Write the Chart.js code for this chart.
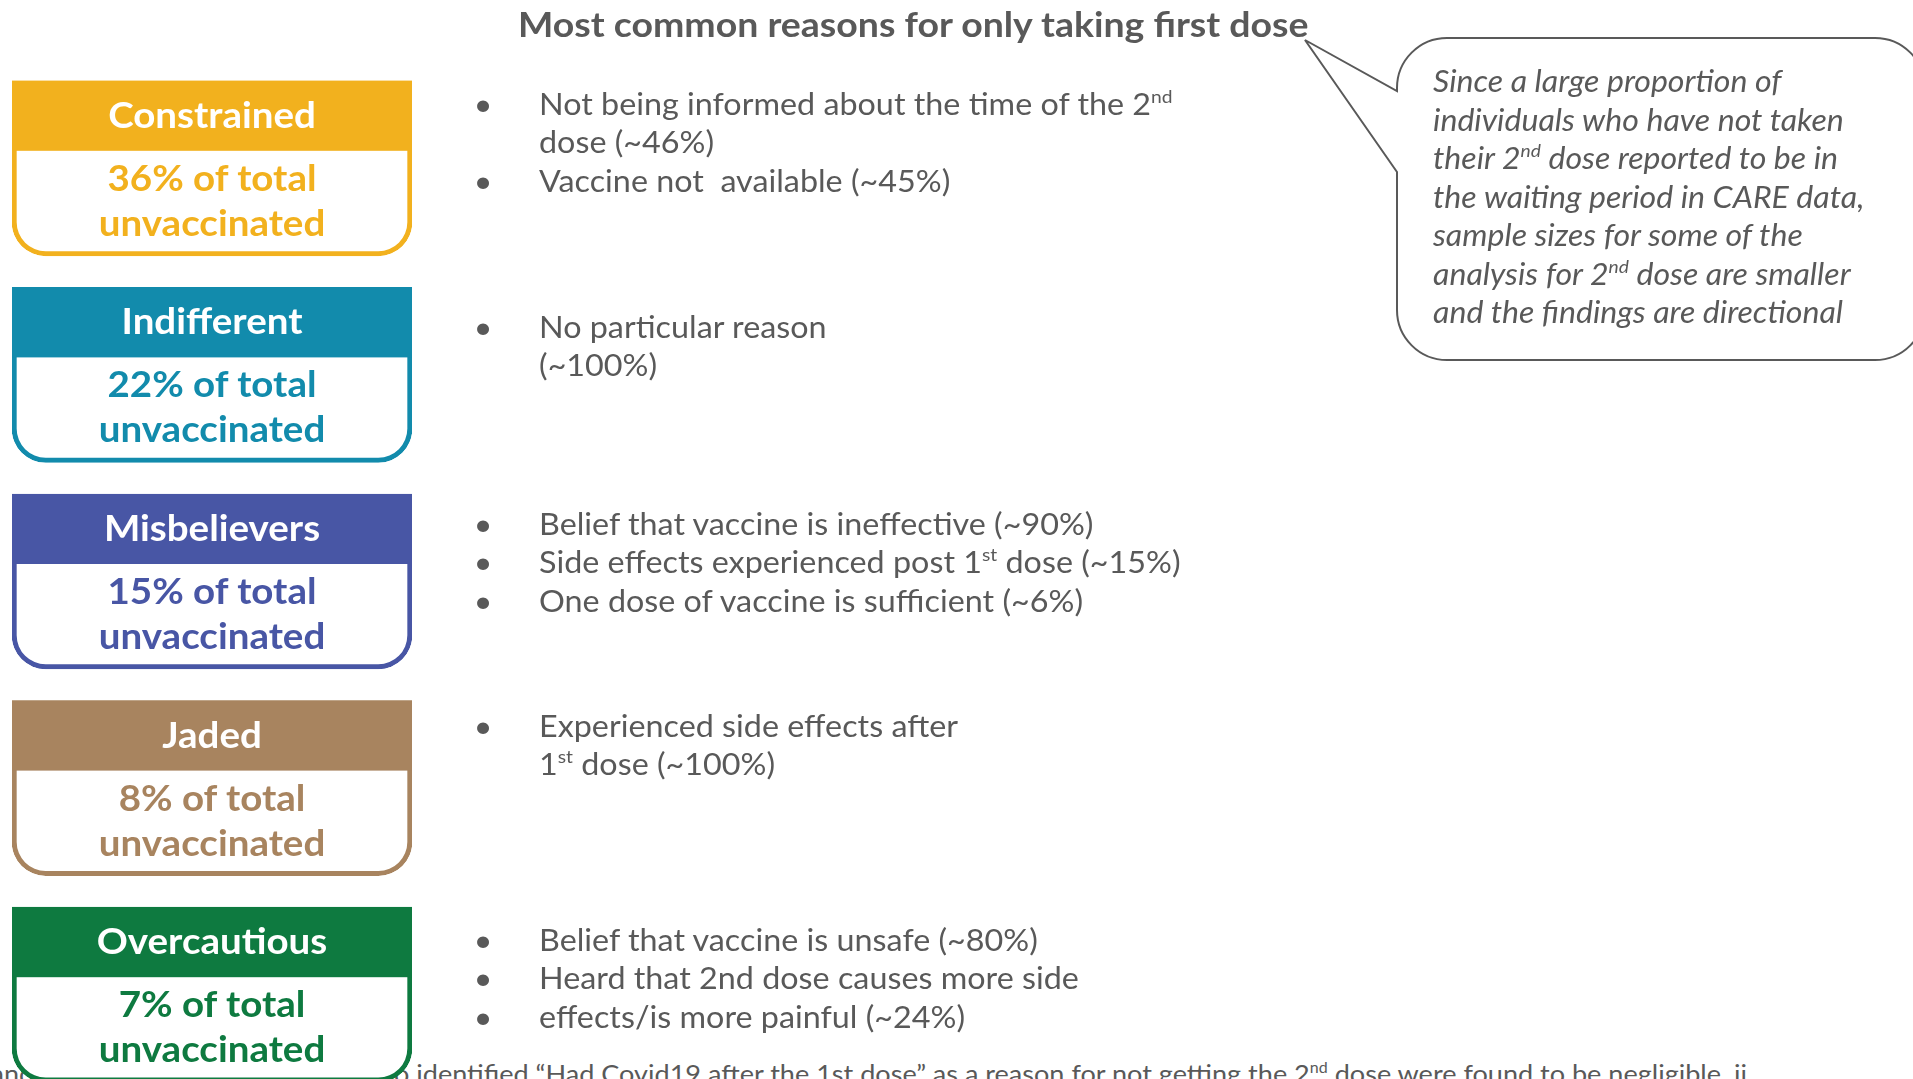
<!DOCTYPE html>
<html>
<head>
<meta charset="utf-8">
<script src="https://cdn.jsdelivr.net/npm/chart.js@4.4.1/dist/chart.umd.min.js"></script>
<style>
  html, body { margin: 0; padding: 0; background: #ffffff; }
  body { width: 1913px; height: 1079px; overflow: hidden; position: relative; }
  .layer { position: absolute; left: 0; top: 0; }
  svg text { font-family: Lato, "Noto Sans", sans-serif; white-space: pre; }
</style>
</head>
<body>
<svg id="under" class="layer" width="1913" height="1079" xmlns="http://www.w3.org/2000/svg"></svg>
<canvas id="boxes" class="layer" width="1913" height="1098"></canvas>
<svg id="over" class="layer" width="1913" height="1079" xmlns="http://www.w3.org/2000/svg"></svg>
<script>
// ---------------- data ----------------
const segments = ['Constrained', 'Indifferent', 'Misbelievers', 'Jaded', 'Overcautious'];
const shareOfUnvaccinated = [36, 22, 15, 8, 7];
const boxSpan = [1, 1, 1, 1, 1];
const reasonsConstrained = ['Not being informed about the time of the 2^{nd}\ndose (~46%)', 'Vaccine not  available (~45%)'];
const reasonsIndifferent = ['No particular reason\n(~100%)'];
const reasonsMisbelievers = ['Belief that vaccine is ineffective (~90%)', 'Side effects experienced post 1^{st} dose (~15%)', 'One dose of vaccine is sufficient (~6%)'];
const reasonsJaded = ['Experienced side effects after\n1^{st} dose (~100%)'];
const reasonsOvercautious = ['Belief that vaccine is unsafe (~80%)', 'Heard that 2nd dose causes more side', 'effects/is more painful (~24%)'];
const reasonsBySegment = [reasonsConstrained, reasonsIndifferent, reasonsMisbelievers, reasonsJaded, reasonsOvercautious];
const titleText = 'Most common reasons for only taking first dose';
const calloutLines = [
  'Since a large proportion of',
  'individuals who have not taken',
  'their 2^{nd} dose reported to be in',
  'the waiting period in CARE data,',
  'sample sizes for some of the',
  'analysis for 2^{nd} dose are smaller',
  'and the findings are directional'
];
const footnoteText = 'Note: Proportions of partially vaccinated and unvaccinated respondents who identified “Had Covid19 after the 1st dose” as a reason for not getting the 2^{nd} dose were found to be negligible, ii';
const footnoteVisibleStart = 'o identified';

// ---------------- styles / layout ----------------
const segmentColors = ['#F2B11E', '#128BAC', '#4856A5', '#A8845F', '#0E7A40'];
const GREY = '#595959';
const SX = 1.07;               // horizontal stretch of the reference typography
const BOX = { left: 12, right: 412, padTop: 65, header: 70, thickness: 175, border: 5, radius: 34 };
const bulletFirstBaseline = [115, 338, 535, 737, 951];
const LINE = 38.4;
const SVGNS = 'http://www.w3.org/2000/svg';

function makeText(parent, str, x, y, size, opts) {
  opts = opts || {};
  const t = document.createElementNS(SVGNS, 'text');
  t.setAttribute('x', 0);
  t.setAttribute('y', 0);
  t.setAttribute('transform', 'translate(' + x + ' ' + y + ') scale(' + SX + ' 1)');
  t.setAttribute('font-size', size);
  t.setAttribute('fill', opts.fill || GREY);
  if (opts.weight) t.setAttribute('font-weight', opts.weight);
  if (opts.italic) t.setAttribute('font-style', 'italic');
  if (opts.anchor) t.setAttribute('text-anchor', opts.anchor);
  const parts = str.split(/(\^\{[^}]*\})/);
  let back = 0;
  parts.forEach(p => {
    if (!p) return;
    const s = document.createElementNS(SVGNS, 'tspan');
    if (p.startsWith('^{')) {
      s.textContent = p.slice(2, -1);
      s.setAttribute('font-size', Math.round(size * 0.6));
      const up = Math.round(size * 0.4);
      s.setAttribute('dy', -up);
      back = up;
    } else {
      s.textContent = p;
      if (back) { s.setAttribute('dy', back); back = 0; }
    }
    t.appendChild(s);
  });
  parent.appendChild(t);
  return t;
}

// ---------------- chart: segment boxes ----------------
const headerBands = {
  id: 'headerBands',
  afterDatasetsDraw(chart) {
    const ctx = chart.ctx;
    chart.getDatasetMeta(0).data.forEach((bar, i) => {
      const p = bar.getProps(['x', 'y', 'base', 'height'], true);
      const top = p.y - p.height / 2;
      ctx.save();
      ctx.fillStyle = segmentColors[i];
      ctx.fillRect(Math.min(p.base, p.x), top, Math.abs(p.x - p.base), BOX.header);
      ctx.restore();
    });
  }
};

const canvas = document.getElementById('boxes');
const chart = new Chart(canvas, {
  type: 'bar',
  data: {
    labels: segments,
    datasets: [{
      data: boxSpan,
      backgroundColor: '#ffffff',
      borderColor: segmentColors,
      borderWidth: BOX.border,
      borderSkipped: false,
      borderRadius: { topLeft: 0, topRight: 0, bottomLeft: BOX.radius, bottomRight: BOX.radius },
      barThickness: BOX.thickness
    }]
  },
  options: {
    indexAxis: 'y',
    responsive: false,
    animation: false,
    devicePixelRatio: 1,
    layout: { padding: { left: BOX.left, right: 1913 - BOX.right, top: BOX.padTop, bottom: 0 } },
    scales: {
      x: { display: false, min: 0, max: 1 },
      y: { display: false }
    },
    plugins: { legend: { display: false }, tooltip: { enabled: false } }
  },
  plugins: [headerBands]
});

// ---------------- text layers ----------------
const over = document.getElementById('over');
const under = document.getElementById('under');

// title
makeText(over, titleText, 518, 37, 35, { weight: 700 });

// box labels, placed from the bars' geometry
chart.getDatasetMeta(0).data.forEach((bar, i) => {
  const p = bar.getProps(['x', 'y', 'base', 'height'], true);
  const top = p.y - p.height / 2;
  const cx = (p.x + p.base) / 2;
  makeText(over, segments[i], cx, top + 47, 36, { weight: 700, fill: '#ffffff', anchor: 'middle' });
  makeText(over, shareOfUnvaccinated[i] + '% of total', cx, top + 110, 36, { weight: 700, fill: segmentColors[i], anchor: 'middle' });
  makeText(over, 'unvaccinated', cx, top + 155, 36, { weight: 700, fill: segmentColors[i], anchor: 'middle' });
});

// reasons
reasonsBySegment.forEach((items, g) => {
  let y = bulletFirstBaseline[g];
  items.forEach(item => {
    makeText(over, '•', 483, y, 30, { anchor: 'middle' });
    item.split('\n').forEach(line => {
      makeText(over, line, 539, y, 30.2);
      y += LINE;
    });
  });
});

// callout bubble
(function () {
  const L = 1397, T = 38, R = 1925, B = 360, r = 50;
  const tip = [1305, 40], up = [L, 91], low = [L, 172];
  const d = [
    'M', low[0], low[1],
    'L', L, B - r,
    'A', r, r, 0, 0, 0, L + r, B,
    'L', R - r, B,
    'A', r, r, 0, 0, 0, R, B - r,
    'L', R, T + r,
    'A', r, r, 0, 0, 0, R - r, T,
    'L', L + r, T,
    'A', r, r, 0, 0, 0, L, T + r,
    'L', up[0], up[1],
    'L', tip[0], tip[1],
    'Z'
  ].join(' ');
  const path = document.createElementNS(SVGNS, 'path');
  path.setAttribute('d', d);
  path.setAttribute('fill', '#ffffff');
  path.setAttribute('stroke', GREY);
  path.setAttribute('stroke-width', 2);
  path.setAttribute('stroke-linejoin', 'miter');
  over.appendChild(path);
  calloutLines.forEach((line, i) => {
    makeText(over, line, 1433, 92 + i * 38.5, 30, { italic: true });
  });
})();

// footnote (mostly hidden behind the last box, cut by the page edge)
(function () {
  const t = makeText(under, footnoteText, 0, 1083, 25.3);
  const idx = footnoteText.indexOf(footnoteVisibleStart);
  let off = 0;
  try { off = t.getSubStringLength(0, idx) * SX; } catch (e) { off = 0; }
  t.setAttribute('transform', 'translate(' + (394 - off) + ' 1083) scale(' + SX + ' 1)');
})();
</script>
</body>
</html>
